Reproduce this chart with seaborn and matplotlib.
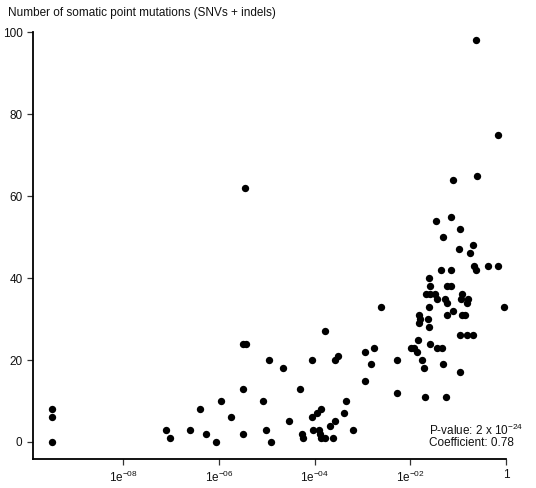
import matplotlib
matplotlib.use("Agg")
import matplotlib.pyplot as plt
import seaborn as sns
import numpy as np
import pandas as pd

# valores (expoente log10 do p-valor, número de mutações)
log_pval = [-9.49, -9.49, -9.49, -7.10, -7.02, -6.60, -6.40, -6.28, -6.07, -5.95,
            -5.75, -5.51, -5.50, -5.43, -5.50, -5.46, -5.08, -5.02, -4.96, -4.92,
            -4.66, -4.54, -4.30, -4.27, -4.25, -4.06, -4.06, -4.04, -3.96, -3.92,
            -3.90, -3.87, -3.87, -3.79, -3.78, -3.69, -3.62, -3.57, -3.57, -3.52,
            -3.39, -3.34, -3.21, -2.95, -2.94, -2.82, -2.77, -2.61, -2.29, -2.27,
            -1.98, -1.93, -1.87, -1.85, -1.81, -1.83, -1.79, -1.75, -1.72, -1.69,
            -1.62, -1.58, -1.68, -1.60, -1.61, -1.63, -1.62, -1.59, -1.48, -1.45,
            -1.47, -1.45, -1.36, -1.34, -1.32, -1.31, -1.27, -1.24, -1.23, -1.23,
            -1.26, -1.16, -1.16, -1.15, -1.10, -1.10, -0.99, -0.96, -0.96, -0.96,
            -0.92, -0.94, -0.92, -0.85, -0.82, -0.80, -0.82, -0.75, -0.69, -0.69,
            -0.68, -0.62, -0.62, -0.61, -0.37, -0.16, -0.16, -0.04]
mutacoes = [8, 6, 0, 3, 1, 3, 8, 2, 0, 10,
            6, 2, 24, 24, 13, 62, 10, 3, 20, 0,
            18, 5, 13, 2, 1, 20, 6, 3, 7, 3,
            2, 8, 1, 1, 27, 4, 1, 5, 20, 21,
            7, 10, 3, 15, 22, 19, 23, 33, 20, 12,
            23, 23, 22, 25, 31, 29, 30, 20, 18, 11,
            40, 38, 36, 36, 33, 30, 28, 24, 36, 35,
            54, 23, 42, 23, 19, 50, 35, 34, 38, 31,
            11, 38, 42, 55, 32, 64, 47, 52, 26, 17,
            36, 35, 31, 31, 26, 35, 34, 46, 48, 26,
            43, 42, 98, 65, 43, 43, 75, 33]

xticks = [1e-8, 1e-6, 1e-4, 1e-2, 1]
xticklabels = [r"1e$^{-08}$", r"1e$^{-06}$", r"1e$^{-04}$", r"1e$^{-02}$", "1"]
yticks = [0, 20, 40, 60, 80, 100]

df = pd.DataFrame({"pval": 10 ** np.array(log_pval), "mut": mutacoes})

sns.set_style("ticks")
plt.rcParams["font.family"] = ["Liberation Sans", "DejaVu Sans"]
plt.rcParams["mathtext.fontset"] = "custom"
plt.rcParams["mathtext.rm"] = "Liberation Sans"
plt.rcParams["mathtext.it"] = "Liberation Sans"

fig = plt.figure(figsize=(5.36, 4.88), dpi=100)
ax = fig.add_axes([0.0616, 0.0594, 0.8825, 0.875])

sns.scatterplot(x="pval", y="mut", data=df, color="black", s=28, linewidth=0,
                clip_on=False, ax=ax)
ax.set_xscale("log")
ax.set_xlim(10 ** -9.89, 1)
ax.set_ylim(-4.15, 100)
ax.set_xticks(xticks)
ax.set_xticklabels(xticklabels)
ax.minorticks_off()
ax.set_yticks(yticks)
ax.set_xlabel("")
ax.set_ylabel("")
ax.tick_params(labelsize=8.5, length=4, width=0.9, color="#333333", labelcolor="#111111")
sns.despine(ax=ax)
for s in ["left", "bottom"]:
    ax.spines[s].set_linewidth(1.3)
    ax.spines[s].set_color("black")

fig.text(0.015, 0.985, "Number of somatic point mutations (SNVs + indels)", fontsize=8.5,
         va="top", ha="left", color="#111111")
ax.text(0.837, 0.068, r"P-value: 2 x 10$^{-24}$", transform=ax.transAxes, fontsize=8.5,
        va="center", color="#111111")
ax.text(0.837, 0.037, "Coefficient: 0.78", transform=ax.transAxes, fontsize=8.5,
        va="center", color="#111111")

fig.savefig("out.png", dpi=100)
